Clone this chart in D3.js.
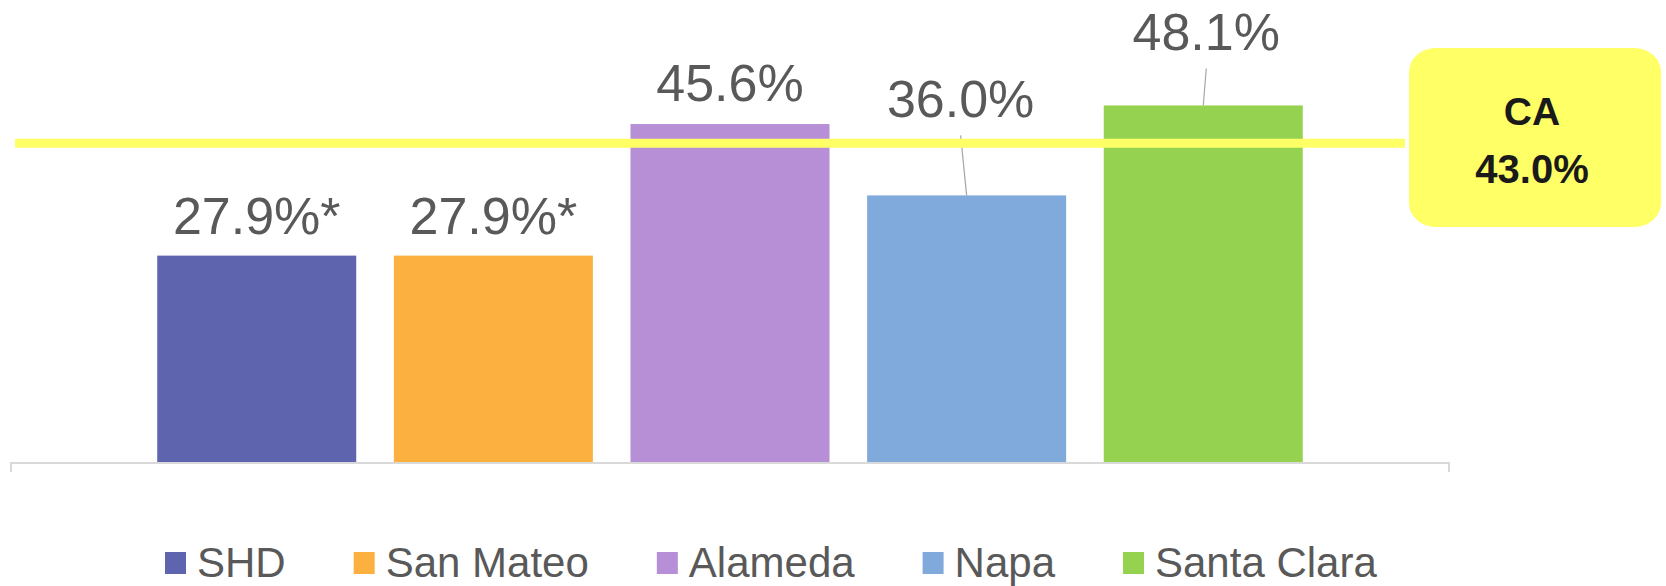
<!DOCTYPE html>
<html>
<head>
<meta charset="utf-8">
<script src="https://cdn.jsdelivr.net/npm/d3@7"></script>
<style>
  body { margin: 0; background: #fff; }
  svg { display: block; font-family: "Liberation Sans", Arial, sans-serif; }
</style>
</head>
<body>
<svg id="chart"></svg>
<script>
// data
const seriesNames = ['SHD', 'San Mateo', 'Alameda', 'Napa', 'Santa Clara'];
const seriesValues = [27.9, 27.9, 45.6, 36.0, 48.1];
const valueLabels = ['27.9%*', '27.9%*', '45.6%', '36.0%', '48.1%'];
const seriesColors = ['#5e64ae', '#fbb040', '#b78fd6', '#80aadb', '#94d250'];
const caName = 'CA';
const caValue = 43.0;
const caLabel = '43.0%';

// how far each data label sits above its bar (labels were dragged in the original)
const labelLift = [22, 22, 23, 78, 55];
const labelShift = [0, 0, 0, -6, 3];

const width = 1666;
const height = 586;

const svg = d3.select('#chart')
    .attr('width', width)
    .attr('height', height);

const axisLeft = 11, axisRight = 1449, baseY = 463;

const x = d3.scaleBand()
    .domain(seriesNames)
    .range([axisLeft, axisRight])
    .paddingInner(0.159)
    .paddingOuter(0.618);

const y = d3.scaleLinear()
    .domain([0, 60])
    .range([baseY, 17]);

// bars
svg.selectAll('rect.bar')
    .data(seriesNames)
    .enter()
    .append('rect')
    .attr('class', 'bar')
    .attr('x', d => x(d))
    .attr('width', x.bandwidth())
    .attr('y', (d, i) => y(seriesValues[i]))
    .attr('height', (d, i) => y(0) - y(seriesValues[i]))
    .attr('fill', (d, i) => seriesColors[i]);

// category axis line with end ticks
svg.append('path')
    .attr('d', `M${axisLeft},${baseY + 9}V${baseY}H${axisRight}V${baseY + 9}`)
    .attr('fill', 'none')
    .attr('stroke', '#d9d9d9')
    .attr('stroke-width', 2);

// leader lines for the lifted labels
seriesNames.forEach((d, i) => {
  if (labelLift[i] > 40) {
    const cx = x(d) + x.bandwidth() / 2;
    svg.append('line')
        .attr('x1', cx + labelShift[i])
        .attr('y1', y(seriesValues[i]) - labelLift[i] + 18)
        .attr('x2', cx)
        .attr('y2', y(seriesValues[i]))
        .attr('stroke', '#a6a6a6')
        .attr('stroke-width', 1.2);
  }
});

// data labels
svg.selectAll('text.value')
    .data(seriesNames)
    .enter()
    .append('text')
    .attr('class', 'value')
    .attr('x', (d, i) => x(d) + x.bandwidth() / 2 + labelShift[i])
    .attr('y', (d, i) => y(seriesValues[i]) - labelLift[i])
    .attr('text-anchor', 'middle')
    .attr('font-size', 52)
    .attr('fill', '#595959')
    .text((d, i) => valueLabels[i]);

// CA reference line
svg.append('line')
    .attr('x1', 15)
    .attr('x2', 1405)
    .attr('y1', y(caValue))
    .attr('y2', y(caValue))
    .attr('stroke', '#ffff66')
    .attr('stroke-width', 9);

// CA callout box
const box = svg.append('g').attr('transform', 'translate(1409, 48)');
box.append('rect')
    .attr('width', 252)
    .attr('height', 179)
    .attr('rx', 27)
    .attr('ry', 24)
    .attr('fill', '#ffff66');
box.append('text')
    .attr('x', 123)
    .attr('y', 77)
    .attr('text-anchor', 'middle')
    .attr('font-size', 39)
    .attr('font-weight', 'bold')
    .attr('fill', '#1a1a1a')
    .text(caName);
box.append('text')
    .attr('x', 123)
    .attr('y', 135)
    .attr('text-anchor', 'middle')
    .attr('font-size', 40)
    .attr('font-weight', 'bold')
    .attr('fill', '#1a1a1a')
    .text(caLabel);

// legend
const legend = svg.append('g').attr('transform', 'translate(165, 552)');
let lx = 0;
seriesNames.forEach((d, i) => {
  const item = legend.append('g').attr('transform', `translate(${lx}, 0)`);
  item.append('rect')
      .attr('width', 21)
      .attr('height', 22)
      .attr('fill', seriesColors[i]);
  const t = item.append('text')
      .attr('x', 32)
      .attr('y', 25)
      .attr('font-size', 42)
      .attr('fill', '#595959')
      .text(d);
  lx += 32 + t.node().getComputedTextLength() + 68;
});
</script>
</body>
</html>
